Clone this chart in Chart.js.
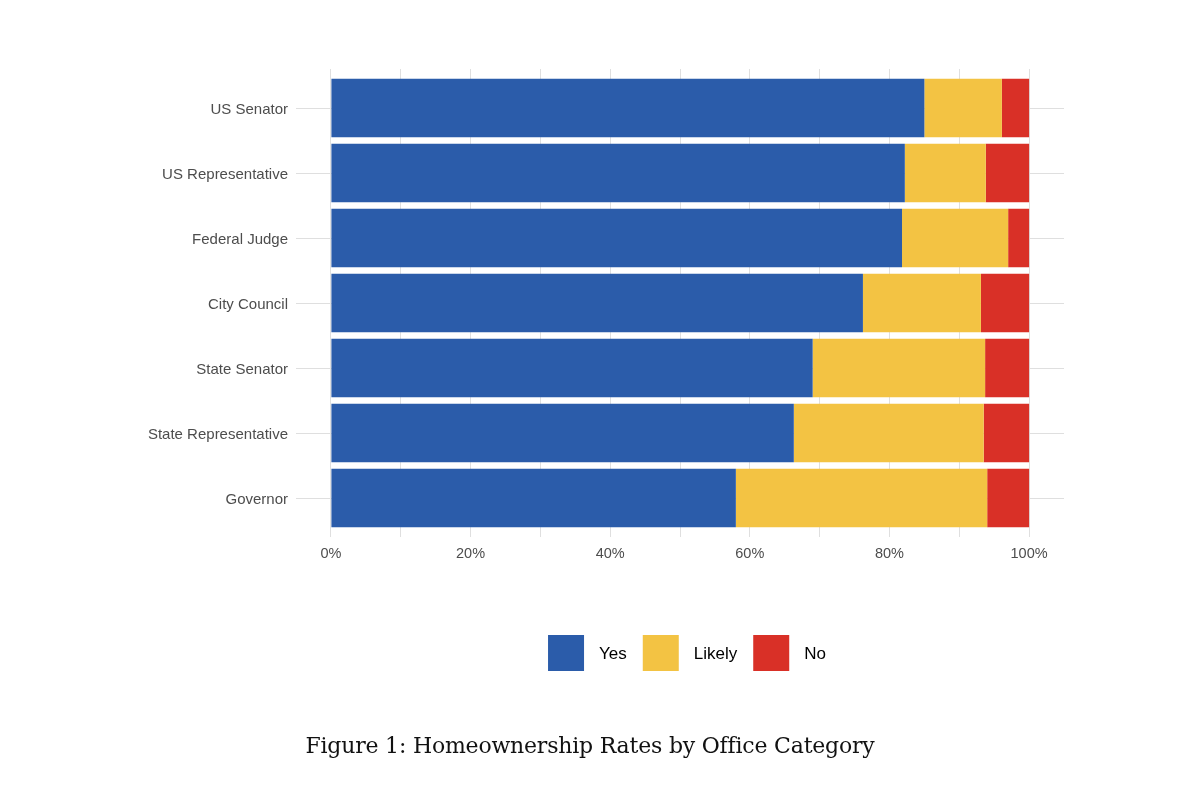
<!DOCTYPE html>
<html>
<head>
<meta charset="utf-8">
<script src="https://cdn.jsdelivr.net/npm/chart.js@4/dist/chart.umd.min.js"></script>
<style>
  html, body { margin: 0; padding: 0; background: #fff; }
  #wrap { position: relative; width: 1200px; height: 786px; }
  #chart { position: absolute; left: 0; top: 0; }
  #caption {
    position: absolute; left: 0; width: 1180px; top: 733px;
    text-align: center; font-family: "DejaVu Serif", "Liberation Serif", serif;
    font-size: 22px; color: #111; letter-spacing: -0.2px;
  }
</style>
</head>
<body>
<div id="wrap">
  <canvas id="chart" width="1200" height="786"></canvas>
  <div id="caption">Figure 1: Homeownership Rates by Office Category</div>
</div>
<script>
// categories, top to bottom
const offices = ['US Senator', 'US Representative', 'Federal Judge', 'City Council',
  'State Senator', 'State Representative', 'Governor'];

// shares in percent
const yesShare    = [85.0, 82.2, 81.8, 76.2, 69.0, 66.3, 58.0];
const likelyShare = [11.1, 11.6, 15.2, 16.9, 24.7, 27.2, 36.0];
const noShare     = [3.9, 6.2, 3.0, 6.9, 6.3, 6.5, 6.0];

const xTicks = [0, 10, 20, 30, 40, 50, 60, 70, 80, 90, 100];
const xLabelTicks = [0, 20, 40, 60, 80, 100];

const seriesNames = ['Yes', 'Likely', 'No'];
const seriesColors = ['#2B5CAA', '#F3C343', '#D93027'];

const toPoints = vals => vals.map((v, i) => ({ x: v, y: i }));

// legend drawn under the plot, ggplot style
const bottomLegend = {
  id: 'bottomLegend',
  afterDraw(chart) {
    const ctx = chart.ctx;
    const box = 36, gap = 15, spacing = 16;
    ctx.save();
    ctx.font = '17px "Liberation Sans", Arial, sans-serif';
    const items = chart.data.datasets.map(d => ({ text: d.label, color: d.backgroundColor, w: ctx.measureText(d.label).width }));
    let total = items.reduce((s, it) => s + box + gap + it.w, 0) + spacing * (items.length - 1);
    let x = 687 - total / 2;
    const top = 635;
    items.forEach(it => {
      ctx.fillStyle = it.color;
      ctx.fillRect(x, top, box, box);
      ctx.fillStyle = '#000';
      ctx.textBaseline = 'middle';
      ctx.textAlign = 'left';
      ctx.fillText(it.text, x + box + gap, top + box / 2 + 1);
      x += box + gap + it.w + spacing;
    });
    ctx.restore();
  }
};

new Chart(document.getElementById('chart'), {
  type: 'bar',
  data: {
    datasets: seriesNames.map((name, k) => ({
      label: name,
      data: toPoints([yesShare, likelyShare, noShare][k]),
      backgroundColor: seriesColors[k],
      borderWidth: 0,
      barPercentage: 0.9,
      categoryPercentage: 1.0
    }))
  },
  options: {
    indexAxis: 'y',
    responsive: false,
    animation: false,
    events: [],
    layout: { padding: { top: 69, right: 136, bottom: 219, left: 0 } },
    plugins: {
      legend: { display: false },
      tooltip: { enabled: false }
    },
    scales: {
      x: {
        type: 'linear',
        stacked: true,
        min: -5,
        max: 105,
        afterBuildTicks: s => { s.ticks = xTicks.map(v => ({ value: v })); },
        afterFit: s => { s.height = 30; },
        border: { display: false },
        grid: { color: '#dfdfdf', lineWidth: 1, drawTicks: false },
        ticks: {
          padding: 8,
          autoSkip: false,
          maxRotation: 0,
          color: '#4d4d4d',
          font: { family: '"Liberation Sans", Arial, sans-serif', size: 14.5 },
          callback: v => xLabelTicks.includes(v) ? v + '%' : ''
        }
      },
      y: {
        type: 'linear',
        stacked: true,
        reverse: true,
        offset: false,
        min: -0.6,
        max: 6.6,
        afterBuildTicks: s => { s.ticks = offices.map((_, i) => ({ value: i })); },
        afterFit: s => { s.width = 296; },
        border: { display: false },
        grid: { color: '#dfdfdf', lineWidth: 1, drawTicks: false, offset: false },
        ticks: {
          padding: 8,
          labelOffset: 2,
          autoSkip: false,
          color: '#4d4d4d',
          font: { family: '"Liberation Sans", Arial, sans-serif', size: 15 },
          callback: v => offices[v]
        }
      }
    }
  },
  plugins: [bottomLegend]
});
</script>
</body>
</html>
